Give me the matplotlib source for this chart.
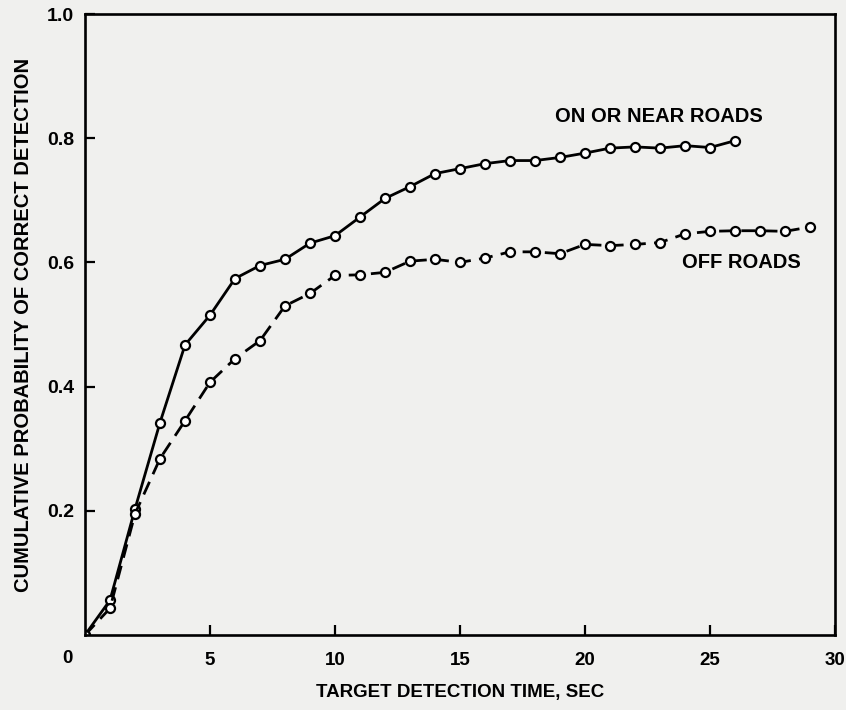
import numpy as np
import matplotlib
matplotlib.use('Agg')
import matplotlib.pyplot as plt

# detection time in seconds
t_on = np.arange(0, 27)
t_off = np.arange(0, 30)

# cumulative probability
p_on = [0.0, 0.056, 0.203, 0.342, 0.467, 0.515, 0.574, 0.595, 0.605, 0.631,
        0.643, 0.673, 0.703, 0.722, 0.743, 0.751, 0.759, 0.764, 0.764, 0.769,
        0.776, 0.784, 0.786, 0.784, 0.788, 0.785, 0.796]
p_off = [0.0, 0.043, 0.195, 0.284, 0.345, 0.407, 0.445, 0.474, 0.530, 0.550,
         0.579, 0.580, 0.584, 0.602, 0.605, 0.600, 0.607, 0.617, 0.617, 0.614,
         0.629, 0.627, 0.629, 0.632, 0.646, 0.650, 0.651, 0.651, 0.650, 0.657]

x_ticks = [5, 10, 15, 20, 25, 30]
y_ticks = [0.2, 0.4, 0.6, 0.8, 1.0]

plt.rcParams['font.family'] = ['Liberation Sans', 'DejaVu Sans']
bg = '#f0f0ee'

fig = plt.figure(figsize=(8.46, 7.10), dpi=100, facecolor=bg)
ax = fig.add_axes([85 / 846, 1 - 635 / 710, 750 / 846, 621 / 710])
ax.set_facecolor(bg)

mk = dict(marker='o', markersize=6.5, markerfacecolor='white',
          markeredgecolor='black', markeredgewidth=1.6, color='black')
ax.plot(t_on, p_on, linestyle='-', linewidth=2.0, **mk)
ax.plot(t_off, p_off, linestyle=(0, (5, 3)), linewidth=2.0, **mk)

ax.set_xlim(0, 30)
ax.set_ylim(0, 1.0)
ax.set_xticks(x_ticks)
ax.set_xticklabels([str(v) for v in x_ticks], fontsize=13.5, fontweight='bold')
ax.set_yticks(y_ticks)
ax.set_yticklabels(['%.1f' % v for v in y_ticks], fontsize=14, fontweight='bold')
ax.tick_params(axis='x', direction='in', length=7, width=1.6, pad=12)
ax.tick_params(axis='y', direction='in', length=7, width=1.6, pad=8)
for s in ax.spines.values():
    s.set_linewidth(1.9)

# shared origin label
ax.annotate('0', xy=(0, 0), xytext=(-13, -17), textcoords='offset points',
            ha='center', va='center', fontsize=13.5, fontweight='bold')

ax.set_xlabel('TARGET DETECTION TIME, SEC', fontsize=13.5, fontweight='bold',
              labelpad=11)
ax.set_ylabel('CUMULATIVE PROBABILITY OF CORRECT DETECTION', fontsize=14.5,
              fontweight='bold', labelpad=10)

ax.text(22.96, 0.835, 'ON OR NEAR ROADS', ha='center', va='center',
        fontsize=14.5, fontweight='bold')
ax.text(26.24, 0.600, 'OFF ROADS', ha='center', va='center',
        fontsize=14.5, fontweight='bold')

fig.savefig('out.png', dpi=100, facecolor=bg)
